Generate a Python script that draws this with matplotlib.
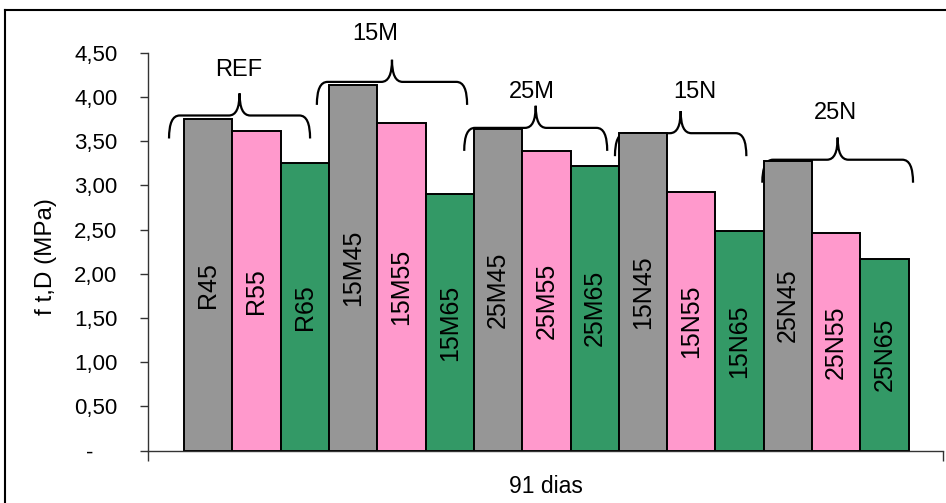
import numpy as np
import matplotlib.pyplot as plt
from matplotlib.path import Path
from matplotlib.patches import PathPatch
from matplotlib.lines import Line2D

plt.rcParams['font.family'] = ['Liberation Sans', 'DejaVu Sans']

# flexural strength at 91 days, grouped by mix
mixes = ['R45', 'R55', 'R65',
         '15M45', '15M55', '15M65',
         '25M45', '25M55', '25M65',
         '15N45', '15N55', '15N65',
         '25N45', '25N55', '25N65']
ftd = [3.75, 3.61, 3.25,
       4.13, 3.70, 2.90,
       3.64, 3.39, 3.22,
       3.59, 2.93, 2.48,
       3.28, 2.46, 2.17]
groups = ['REF', '15M', '25M', '15N', '25N']
yticks = [0, 0.5, 1.0, 1.5, 2.0, 2.5, 3.0, 3.5, 4.0, 4.5]

# curly brace spans over each group (hand placed, in bar units)
brace_left = [-0.81, 2.25, 5.30, 8.42, 11.47]
brace_right = [2.11, 5.36, 8.26, 11.14, 14.59]
brace_level = [3.79, 4.17, 3.65, 3.59, 3.29]
label_x = [0.64, 3.45, 6.70, 10.08, 12.98]
label_y = [4.31, 4.71, 4.06, 4.06, 3.82]

colors = ['#969696', '#ff99cc', '#339966']


def brace(ax, x0, x1, y, drop=0.26, rise=0.25, r=0.22):
    xm = (x0 + x1) / 2
    verts = [(x0, y - drop), (x0, y), (x0 + r, y),
             (xm - r, y),
             (xm, y), (xm, y + rise),
             (xm, y + rise), (xm, y), (xm + r, y),
             (x1 - r, y),
             (x1, y), (x1, y - drop)]
    codes = [Path.MOVETO, Path.CURVE3, Path.CURVE3,
             Path.LINETO,
             Path.CURVE3, Path.CURVE3,
             Path.MOVETO, Path.CURVE3, Path.CURVE3,
             Path.LINETO,
             Path.CURVE3, Path.CURVE3]
    ax.add_patch(PathPatch(Path(verts, codes), fill=False, lw=1.6,
                           color='black', clip_on=False))


fig = plt.figure(figsize=(9.46, 5.03), dpi=100)
ax = fig.add_axes([148 / 946, 1 - 450.7 / 503, (943 - 148) / 946, (450.7 - 52.7) / 503])

x = np.arange(len(mixes))
ax.bar(x, ftd, width=1.0, color=[colors[i % 3] for i in range(len(mixes))],
       edgecolor='black', linewidth=1.4, zorder=2)

for xi, v, name in zip(x, ftd, mixes):
    ax.text(xi, v / 2, name, rotation=90, ha='center', va='center', fontsize=18)

for x0, x1, lvl in zip(brace_left, brace_right, brace_level):
    brace(ax, x0, x1, lvl)
for g, lx, ly in zip(groups, label_x, label_y):
    ax.text(lx, ly, g, ha='center', va='center', fontsize=17, clip_on=False)

ax.set_xlim(-1.245, 15.21)
ax.set_ylim(0, 4.5)
ax.set_yticks(yticks)
# accounting style: zero shown as a dash, set in from the right
ax.set_yticklabels(['-    ' if t == 0 else f'{t:.2f}'.replace('.', ',') for t in yticks])
ax.set_xticks([-1.245, 15.21])
ax.set_xticklabels([])
ax.tick_params(axis='y', direction='out', length=6, width=1, color='#333333',
               labelsize=16, pad=16)
ax.tick_params(axis='x', direction='out', length=7, width=1, color='#333333')
for s in ['top', 'right']:
    ax.spines[s].set_visible(False)
for s in ['left', 'bottom']:
    ax.spines[s].set_color('#333333')
    ax.spines[s].set_linewidth(1)

ax.set_xlabel('91 dias', fontsize=16.5, va='center')
ax.xaxis.set_label_coords(0.5, -0.091)
ax.set_ylabel('f t,D (MPa)', fontsize=17.5, va='center')
ax.yaxis.set_label_coords(-0.128, 0.489)

# outer chart frame
fig.add_artist(Line2D([5 / 946, 5 / 946], [0, 1 - 10 / 503], color='black', lw=1.5,
                      transform=fig.transFigure))
fig.add_artist(Line2D([5 / 946, 1], [1 - 10 / 503, 1 - 10 / 503], color='black', lw=1.5,
                      transform=fig.transFigure))

fig.savefig('out.png', dpi=100)
